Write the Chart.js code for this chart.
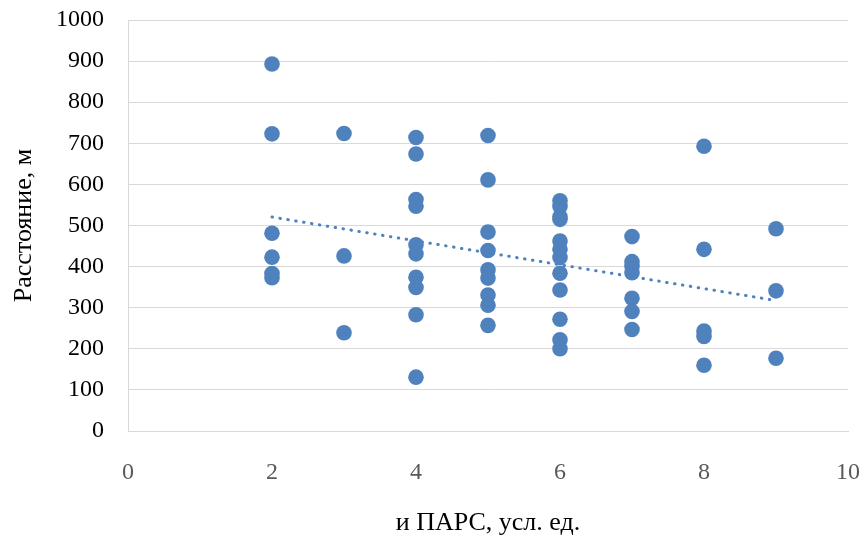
<!DOCTYPE html>
<html>
<head>
<meta charset="utf-8">
<script src="https://cdn.jsdelivr.net/npm/chart.js@4"></script>
<style>
  body { margin: 0; background: #fff; }
  #wrap { width: 863px; height: 536px; }
</style>
</head>
<body>
<div id="wrap"><canvas id="scatterChart"></canvas></div>
<script>
// --- DATA ---
const parsX = [
    2, 2, 2, 2, 2, 2,
    3, 3, 3,
    4, 4, 4, 4, 4, 4, 4, 4, 4, 4,
    5, 5, 5, 5, 5, 5, 5, 5, 5,
    6, 6, 6, 6, 6, 6, 6, 6, 6, 6, 6, 6,
    7, 7, 7, 7, 7, 7, 7,
    8, 8, 8, 8, 8,
    9, 9, 9
];
const distanceY = [
    893, 723, 481, 423, 383, 373,
    724, 426, 239,
    714, 674, 563, 547, 453, 431, 374, 349, 283, 131,
    719, 611, 484, 439, 392, 372, 331, 306, 257,
    560, 546, 521, 515, 462, 442, 422, 384, 343, 272, 222, 200,
    473, 412, 400, 385, 323, 291, 247,
    693, 442, 243, 230, 160,
    492, 341, 177
];
const xTicks = [0, 2, 4, 6, 8, 10];
const yTicks = [0, 100, 200, 300, 400, 500, 600, 700, 800, 900, 1000];

const BLUE = '#4f81bd';
const GRID = '#d9d9d9';
const FONT = 'Liberation Serif';

// Linear trendline (least squares) over the data
function linearTrend(xs, ys) {
    const n = xs.length;
    const mx = xs.reduce((a, b) => a + b, 0) / n;
    const my = ys.reduce((a, b) => a + b, 0) / n;
    let sxy = 0, sxx = 0;
    for (let i = 0; i < n; i++) {
        sxy += (xs[i] - mx) * (ys[i] - my);
        sxx += (xs[i] - mx) * (xs[i] - mx);
    }
    const slope = sxy / sxx;
    const icpt = my - slope * mx;
    const x0 = Math.min(...xs), x1 = Math.max(...xs);
    return [{ x: x0, y: icpt + slope * x0 }, { x: x1, y: icpt + slope * x1 }];
}

// let the layout padding alone decide where the plot sits
function noOverflow(s) {
    s.paddingTop = 0;
    s.paddingBottom = 0;
    s.paddingLeft = 0;
    s.paddingRight = 0;
}

const points = parsX.map((x, i) => ({ x: x, y: distanceY[i] }));

const ctx = document.getElementById('scatterChart').getContext('2d');
const chart = new Chart(ctx, {
    type: 'scatter',
    data: {
        datasets: [{
            label: 'Расстояние',
            data: points,
            backgroundColor: BLUE,
            borderWidth: 0,
            pointRadius: 7.8,
            pointHoverRadius: 7.8,
            order: 2
        }, {
            type: 'line',
            label: 'Тренд',
            data: linearTrend(parsX, distanceY),
            borderColor: BLUE,
            borderWidth: 3,
            borderDash: [0.5, 7.5],
            borderCapStyle: 'round',
            pointRadius: 0,
            fill: false,
            order: 1
        }]
    },
    options: {
        responsive: true,
        maintainAspectRatio: false,
        animation: false,
        layout: { padding: { top: 20, right: 15, bottom: 0, left: 0 } },
        plugins: { legend: { display: false }, tooltip: { enabled: false } },
        scales: {
            x: {
                type: 'linear',
                min: 0,
                max: 10,
                afterBuildTicks: s => { s.ticks = xTicks.map(v => ({ value: v })); },
                afterFit: s => { s.height = 105; noOverflow(s); },
                grid: { display: false, drawTicks: false },
                border: { display: true, color: GRID, width: 1 },
                ticks: {
                    padding: 27,
                    color: '#595959',
                    font: { family: FONT, size: 24 },
                    callback: v => String(v)
                },
                title: {
                    display: true,
                    text: 'и ПАРС, усл. ед.',
                    color: '#000',
                    font: { family: FONT, size: 26 },
                    padding: { top: 0, bottom: -3 }
                }
            },
            y: {
                type: 'linear',
                min: 0,
                max: 1000,
                afterBuildTicks: s => { s.ticks = yTicks.map(v => ({ value: v })); },
                afterFit: s => { s.width = 128; noOverflow(s); },
                grid: { color: GRID, lineWidth: 1, drawTicks: false },
                border: { display: true, color: GRID, width: 1 },
                ticks: {
                    padding: 24,
                    color: '#000',
                    font: { family: FONT, size: 24 },
                    callback: v => String(v)
                },
                title: {
                    display: true,
                    text: 'Расстояние, м',
                    color: '#000',
                    font: { family: FONT, size: 26 },
                    padding: { top: 9, bottom: 0 }
                }
            }
        }
    }
});
</script>
</body>
</html>
